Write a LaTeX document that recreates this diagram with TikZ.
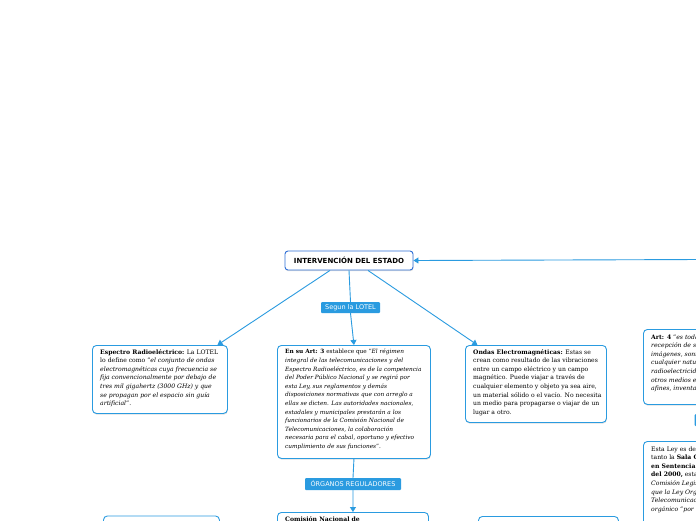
\documentclass[tikz,border=0pt]{standalone}
\usepackage{fontspec}
\setmainfont{DejaVu Serif}
\newfontfamily\labelfont{DejaVu Sans}
\usetikzlibrary{arrows.meta,shadows}
\definecolor{conn}{HTML}{2A9BE0}
\definecolor{titleborder}{HTML}{2F6FD6}
\tikzset{
  connline/.style={draw=conn, line width=0.9pt},
  arr/.style={connline, -{Triangle[length=5pt,width=6pt]}},
  box/.style={draw=conn, line width=0.9pt, rounded corners=4pt, fill=white,
    drop shadow={opacity=0.25, shadow xshift=0.4pt, shadow yshift=-1.2pt},
    anchor=north west, inner sep=0pt},
  boxtext/.style={anchor=north west, inner sep=0pt, align=left,
    font=\fontsize{6.1}{8.6}\selectfont},
  lbl/.style={fill=conn, text=white, rounded corners=1pt, inner sep=0pt,
    font=\labelfont\fontsize{6.5}{7}\selectfont},
  titlebox/.style={draw=titleborder, line width=0.9pt, rounded corners=3pt, fill=white,
    drop shadow={opacity=0.25, shadow xshift=0.4pt, shadow yshift=-1.2pt},
    minimum width=128pt, minimum height=19pt, inner sep=0pt,
    font=\labelfont\bfseries\fontsize{7}{7}\selectfont}
}
\begin{document}
\begin{tikzpicture}[x=1pt,y=-1pt]
\useasboundingbox (0,0) rectangle (696,520);
\clip (0,0) rectangle (696,520);
\fill[white] (0,0) rectangle (696,520);

% title
\node[titlebox] (title) at (349,260.5) {INTERVENCIÓN DEL ESTADO};
\coordinate (rightin) at (700,259.5);

% boxes
\node[box, minimum width=135pt, minimum height=68pt] (esp) at (92,345) {};
\node[boxtext] (esptext) at (100,349) {\textbf{Espectro Radioeléctrico:} La LOTEL\\
lo define como "\textit{el conjunto de ondas}\\
\textit{electromagnéticas cuya frecuencia se}\\
\textit{fija convencionalmente por debajo de}\\
\textit{tres mil gigahertz (3000 GHz) y que}\\
\textit{se propagan por el espacio sin guía}\\
\textit{artificial}".};

\node[box, minimum width=153pt, minimum height=113pt] (art) at (277,345) {};
\node[boxtext, font=\fontsize{5.8}{8.6}\selectfont] (arttext) at (285,349) {\textbf{En su Art: 3} establece que "\textit{El régimen}\\
\textit{integral de las telecomunicaciones y del}\\
\textit{Espectro Radioeléctrico, es de la competencia}\\
\textit{del Poder Público Nacional y se regirá por}\\
\textit{esta Ley, sus reglamentos y demás}\\
\textit{disposiciones normativas que con arreglo a}\\
\textit{ellas se dicten. Las autoridades nacionales,}\\
\textit{estadales y municipales prestarán a los}\\
\textit{funcionarios de la Comisión Nacional de}\\
\textit{Telecomunicaciones, la colaboración}\\
\textit{necesaria para el cabal, oportuno y efectivo}\\
\textit{cumplimiento de sus funciones}".};

\node[box, minimum width=141pt, minimum height=77pt] (ondas) at (465,345) {};
\node[boxtext] (ondastext) at (473,349) {\textbf{Ondas Electromagnéticas:} Estas se\\
crean como resultado de las vibraciones\\
entre un campo eléctrico y un campo\\
magnético. Puede viajar a través de\\
cualquier elemento y objeto ya sea aire,\\
un material sólido o el vacío. No necesita\\
un medio para propagarse o viajar de un\\
lugar a otro.};

% right side boxes (cut off at the edge, as in the reference)
\node[box, minimum width=90pt, minimum height=75pt] (art4) at (643,329) {};
\node[boxtext] (art4text) at (651,334) {\textbf{Art: 4} "\textit{es toda transmisión, emisión o}\\
\textit{recepción de signos, señales, escritos,}\\
\textit{imágenes, sonidos o informaciones de}\\
\textit{cualquier naturaleza, por hilo,}\\
\textit{radioelectricidad, medios ópticos, u}\\
\textit{otros medios electromagnéticos}\\
\textit{afines, inventados o por inventarse}".};
\node[lbl, minimum width=40pt, minimum height=12pt, anchor=north west] (art4lbl) at (694.5,414) {};

\node[box, minimum width=90pt, minimum height=100pt] (ley) at (643,441) {};
\node[boxtext] (leytext) at (651,446) {Esta Ley es de carácter orgánico,\\
tanto la \textbf{Sala Constitucional}\\
\textbf{en Sentencia Nº 1} de fecha\\
\textbf{del 2000,} estableció que la\\
\textit{Comisión Legislativa estableció}\\
\textit{que la Ley Orgánica de}\\
\textit{Telecomunicaciones tiene carácter}\\
\textit{orgánico "por}};

% bottom boxes (cut off)
\node[box, minimum width=116pt, minimum height=40pt] (bl) at (103,515.5) {};
\node[box, minimum width=151pt, minimum height=40pt] (bm) at (277,512) {};
\node[boxtext] (bmtext) at (285,516.5) {\textbf{Comisión Nacional de}};
\node[box, minimum width=140pt, minimum height=40pt] (br) at (478,516) {};

% labels
\node[lbl, minimum width=59pt, minimum height=11pt] (segun) at (350.5,307.5) {Segun la LOTEL};
\node[lbl, minimum width=96pt, minimum height=12pt] (org) at (353,484) {ÓRGANOS REGULADORES};

% connectors
\draw[arr] (rightin) -- (title.east);
\draw[arr] ([xshift=-19pt]title.south) -- ([xshift=57.5pt]esp.north);
\draw[connline] (title.south) -- (segun.north);
\draw[arr] (segun.south) -- (art.north);
\draw[arr] ([xshift=19pt]title.south) -- ([xshift=-58.5pt]ondas.north);
\draw[connline] (art.south) -- (org.north);
\draw[arr] (org.south) -- (bm.north);
\end{tikzpicture}
\end{document}
